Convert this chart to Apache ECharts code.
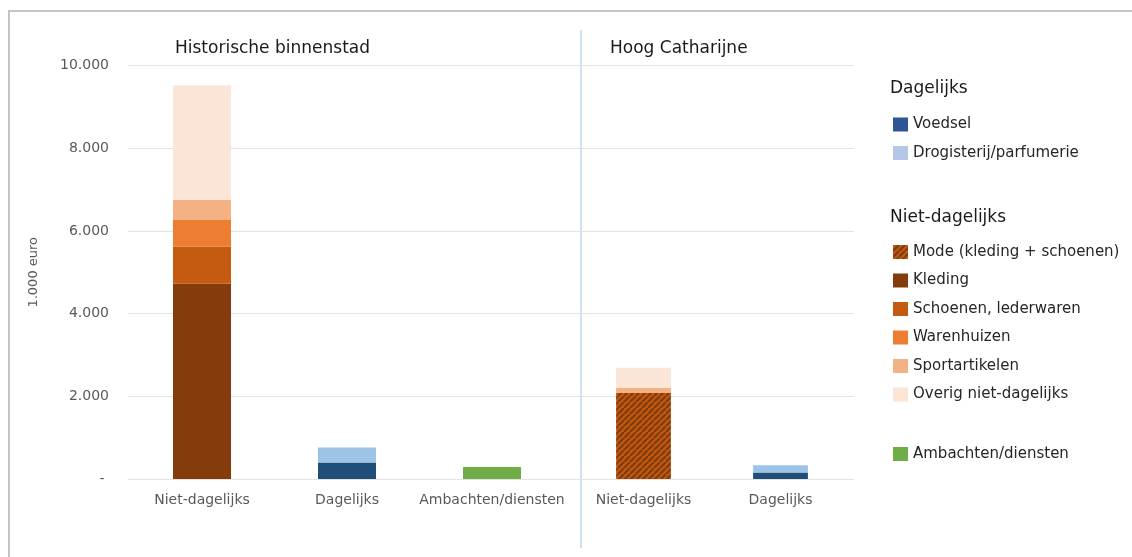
<!DOCTYPE html>
<html>
<head>
<meta charset="utf-8">
<script src="https://cdn.jsdelivr.net/npm/echarts@6/dist/echarts.min.js"></script>
<style>
  html, body { margin: 0; padding: 0; background: #ffffff; }
  #chart { width: 1132px; height: 557px; }
</style>
</head>
<body>
<div id="chart"></div>
<script>
// Bestedingen in 1.000 euro per branchegroep
const categoriesBinnenstad = ['Niet-dagelijks', 'Dagelijks', 'Ambachten/diensten'];
const categoriesCatharijne = ['Niet-dagelijks', 'Dagelijks'];

// Historische binnenstad
const hbKleding        = [4720, '-', '-'];
const hbSchoenen       = [905, '-', '-'];
const hbWarenhuizen    = [640, '-', '-'];
const hbSport          = [480, '-', '-'];
const hbOverig         = [2780, '-', '-'];
const hbVoedsel        = ['-', 400, '-'];
const hbDrogisterij    = ['-', 360, '-'];
const hbAmbachten      = ['-', '-', 290];

// Hoog Catharijne
const hcMode           = [2080, '-'];
const hcSport          = [120, '-'];
const hcOverig         = [490, '-'];
const hcVoedsel        = ['-', 160];
const hcDrogisterij    = ['-', 175];

const yMin = 0, yMax = 10000, yStep = 2000;

const FONT = 'DejaVu Sans';
const C = {
  voedsel: '#1F4E79', drog: '#9DC3E6',
  kleding: '#843C0C', schoenen: '#C55A11', waren: '#ED7D31',
  sport: '#F4B183', overig: '#FBE5D6', ambacht: '#70AD47'
};

// diagonal hatch for "Mode (kleding + schoenen)"
function hatchPattern() {
  const s = 6;
  const c = document.createElement('canvas');
  c.width = s; c.height = s;
  const g = c.getContext('2d');
  g.fillStyle = C.schoenen;
  g.fillRect(0, 0, s, s);
  g.strokeStyle = C.kleding;
  g.lineWidth = 2.4;
  g.beginPath();
  for (const o of [-s, 0, s]) { g.moveTo(o, s); g.lineTo(o + s, 0); }
  g.stroke();
  return { image: c, repeat: 'repeat' };
}
const modeFill = hatchPattern();

function dots(v) {
  if (v === 0) return '- ';
  return String(v).replace(/\B(?=(\d{3})+(?!\d))/g, '.');
}

const TOP = 65.5, BOTTOM = 78;

function bar(name, data, color, axis) {
  return {
    name, type: 'bar', data, stack: 'stack' + axis,
    xAxisIndex: axis, yAxisIndex: axis,
    barWidth: '40%',
    itemStyle: { color },
    emphasis: { disabled: true }
  };
}

const hiddenCat = (data, gridIndex) => ({
  type: 'category', gridIndex, data,
  axisLine: { show: false }, axisTick: { show: false },
  axisLabel: { color: '#595959', fontSize: 14, fontFamily: FONT, margin: 14, interval: 0 }
});
const hiddenVal = (gridIndex) => ({
  type: 'value', gridIndex, min: yMin, max: yMax, interval: yStep, show: false
});

const legendText = { color: '#262626', fontSize: 15, fontFamily: FONT };
const legendBase = {
  orient: 'vertical', left: 893, padding: 0, itemWidth: 15, itemHeight: 14,
  itemGap: 13.5, icon: 'rect', selectedMode: false, textStyle: legendText
};

const headFont = '17px "DejaVu Sans"';

const option = {
  animation: false,
  backgroundColor: '#ffffff',
  grid: [
    { left: 128, right: 278, top: TOP, bottom: BOTTOM },
    { left: 129.5, width: 435, top: TOP, bottom: BOTTOM },
    { left: 575, width: 274, top: TOP, bottom: BOTTOM }
  ],
  xAxis: [
    { type: 'value', gridIndex: 0, min: 0, max: 1, show: false },
    hiddenCat(categoriesBinnenstad, 1),
    hiddenCat(categoriesCatharijne, 2)
  ],
  yAxis: [
    {
      type: 'value', gridIndex: 0, min: yMin, max: yMax, interval: yStep,
      name: '1.000 euro', nameLocation: 'middle', nameGap: 88,
      nameTextStyle: { color: '#595959', fontSize: 13, fontFamily: FONT },
      axisLine: { show: false }, axisTick: { show: false },
      axisLabel: { color: '#595959', fontSize: 14, fontFamily: FONT, margin: 19, formatter: dots },
      splitLine: { lineStyle: { color: '#e3e3e3', width: 1 } }
    },
    hiddenVal(1),
    hiddenVal(2)
  ],
  legend: [
    Object.assign({}, legendBase, {
      top: 117,
      data: [
        { name: 'Voedsel', itemStyle: { color: '#2F5597' } },
        { name: 'Drogisterij/parfumerie', itemStyle: { color: '#B4C7E7' } }
      ]
    }),
    Object.assign({}, legendBase, {
      top: 244.5,
      data: ['Mode (kleding + schoenen)', 'Kleding', 'Schoenen, lederwaren',
             'Warenhuizen', 'Sportartikelen', 'Overig niet-dagelijks']
    }),
    Object.assign({}, legendBase, { top: 446.5, data: ['Ambachten/diensten'] })
  ],
  graphic: [
    { type: 'rect', shape: { x: 9, y: 11, width: 1200, height: 600 },
      style: { fill: 'none', stroke: '#c4c4c4', lineWidth: 2 }, silent: true },
    { type: 'line', shape: { x1: 581, y1: 30, x2: 581, y2: 548 },
      style: { stroke: '#BDD7EE', lineWidth: 1.5 }, silent: true },
    { type: 'text', left: 175, top: 40,
      style: { text: 'Historische binnenstad', fill: '#1a1a1a', font: headFont } },
    { type: 'text', left: 610, top: 40,
      style: { text: 'Hoog Catharijne', fill: '#1a1a1a', font: headFont } },
    { type: 'text', left: 890, top: 80,
      style: { text: 'Dagelijks', fill: '#1a1a1a', font: headFont } },
    { type: 'text', left: 890, top: 209,
      style: { text: 'Niet-dagelijks', fill: '#1a1a1a', font: headFont } }
  ],
  series: [
    bar('Kleding', hbKleding, C.kleding, 1),
    bar('Schoenen, lederwaren', hbSchoenen, C.schoenen, 1),
    bar('Warenhuizen', hbWarenhuizen, C.waren, 1),
    bar('Sportartikelen', hbSport, C.sport, 1),
    bar('Overig niet-dagelijks', hbOverig, C.overig, 1),
    bar('Voedsel', hbVoedsel, C.voedsel, 1),
    bar('Drogisterij/parfumerie', hbDrogisterij, C.drog, 1),
    bar('Ambachten/diensten', hbAmbachten, C.ambacht, 1),
    bar('Mode (kleding + schoenen)', hcMode, modeFill, 2),
    bar('Sportartikelen', hcSport, C.sport, 2),
    bar('Overig niet-dagelijks', hcOverig, C.overig, 2),
    bar('Voedsel', hcVoedsel, C.voedsel, 2),
    bar('Drogisterij/parfumerie', hcDrogisterij, C.drog, 2)
  ]
};

const chart = echarts.init(document.getElementById('chart'), null, { renderer: 'canvas' });
chart.setOption(option);
</script>
</body>
</html>
